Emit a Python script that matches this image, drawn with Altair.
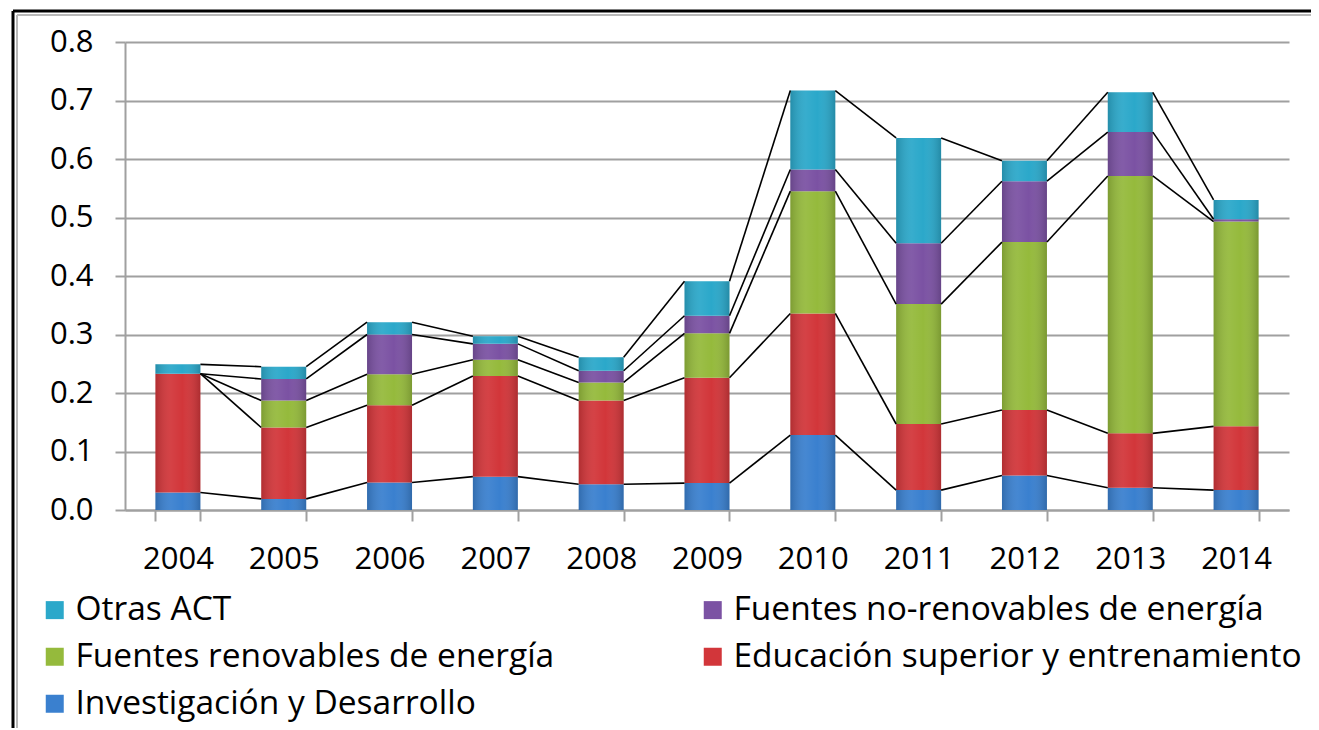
import altair as alt
import pandas as pd

years = ["2004", "2005", "2006", "2007", "2008", "2009", "2010", "2011", "2012", "2013", "2014"]
series_names = [
    "Investigación y Desarrollo",
    "Educación superior y entrenamiento",
    "Fuentes renovables de energía",
    "Fuentes no-renovables de energía",
    "Otras ACT",
]
investigacion = [0.030, 0.019, 0.047, 0.057, 0.044, 0.046, 0.128, 0.034, 0.059, 0.038, 0.034]
educacion = [0.203, 0.122, 0.132, 0.172, 0.143, 0.180, 0.208, 0.113, 0.112, 0.093, 0.109]
renovables = [0.000, 0.046, 0.053, 0.028, 0.031, 0.076, 0.209, 0.205, 0.287, 0.440, 0.350]
no_renovables = [0.000, 0.037, 0.068, 0.027, 0.020, 0.030, 0.037, 0.104, 0.104, 0.075, 0.004]
otras = [0.016, 0.021, 0.021, 0.013, 0.023, 0.059, 0.135, 0.180, 0.035, 0.068, 0.033]
colors = ["#3A80CF", "#D2363A", "#95BA3C", "#7B52A3", "#2BA8CA"]
y_ticks = [0.0, 0.1, 0.2, 0.3, 0.4, 0.5, 0.6, 0.7, 0.8]

values = [investigacion, educacion, renovables, no_renovables, otras]

rows = []
for si, (name, vals) in enumerate(zip(series_names, values)):
    for yi, yr in enumerate(years):
        rows.append({"year": yr, "series": name, "value": vals[yi], "order": si})
df = pd.DataFrame(rows)

# cumulative tops for connector lines
cum = []
for yi in range(len(years)):
    s = 0.0
    c = []
    for vals in values:
        s += vals[yi]
        c.append(s)
    cum.append(c)
line_rows = []
for yi in range(len(years) - 1):
    for si in range(len(series_names)):
        line_rows.append({
            "year": years[yi], "next": years[yi + 1],
            "y1": cum[yi][si], "y2": cum[yi + 1][si],
        })
ldf = pd.DataFrame(line_rows)

legend_order = series_names[::-1]
legend_colors = colors[::-1]

xscale = alt.Scale(domain=years, paddingInner=0.575, paddingOuter=0.2875)
yscale = alt.Scale(domain=[0, 0.8], nice=False)

FONT = "Open Sans"

bars = alt.Chart(df).mark_bar(stroke="transparent").encode(
    x=alt.X("year:O", scale=xscale, title=None,
            axis=alt.Axis(labelAngle=0, tickBand="extent", tickSize=11, labelPadding=23,
                          labelFontSize=31, labelFont=FONT, labelColor="#000000",
                          domainColor="#A0A0A0", domainWidth=2, tickColor="#A0A0A0",
                          tickWidth=2, grid=False)),
    y=alt.Y("value:Q", stack="zero", scale=yscale, title=None,
            axis=alt.Axis(values=y_ticks, format=".1f", tickSize=10, labelPadding=22,
                          labelFontSize=31, labelFont=FONT, labelColor="#000000",
                          domainColor="#A0A0A0", domainWidth=2, tickColor="#A0A0A0",
                          tickWidth=2, gridColor="#A0A0A0", gridWidth=2)),
    color=alt.Color("series:N", scale=alt.Scale(domain=legend_order, range=legend_colors),
                    sort=legend_order,
                    legend=alt.Legend(title=None, orient="none", legendX=-87, legendY=551,
                                      columns=2, direction="horizontal",
                                      symbolType="square", symbolSize=324,
                                      symbolStrokeWidth=0, labelFont=FONT,
                                      labelFontSize=33.5, labelColor="#000000",
                                      labelOffset=4, rowPadding=12, columnPadding=141,
                                      labelLimit=700, padding=0)),
    order=alt.Order("order:Q", sort="ascending"),
)

shade = alt.Chart(df).mark_bar(
    stroke="transparent",
    color=alt.Gradient(
        gradient="linear", x1=0, y1=0, x2=1, y2=0,
        stops=[
            alt.GradientStop(color="rgba(0,0,0,0.16)", offset=0),
            alt.GradientStop(color="rgba(255,255,255,0.06)", offset=0.35),
            alt.GradientStop(color="rgba(255,255,255,0.0)", offset=0.6),
            alt.GradientStop(color="rgba(0,0,0,0.18)", offset=1),
        ],
    ),
).encode(
    x=alt.X("year:O", scale=xscale),
    y=alt.Y("value:Q", stack="zero", scale=yscale),
    detail="series:N",
    order=alt.Order("order:Q", sort="ascending"),
)

lines = alt.Chart(ldf).mark_rule(color="#000000", strokeWidth=1.6, xOffset=22.5, x2Offset=-22.5).encode(
    x=alt.X("year:O", scale=xscale),
    x2="next:O",
    y=alt.Y("y1:Q", scale=yscale),
    y2="y2:Q",
)

frame_top = alt.Chart(pd.DataFrame({"a": [0]})).mark_rule(color="#000000", strokeWidth=3).encode(
    x=alt.value(-112), x2=alt.value(1200), y=alt.value(-31))
frame_left = alt.Chart(pd.DataFrame({"a": [0]})).mark_rule(color="#000000", strokeWidth=3).encode(
    x=alt.value(-112), y=alt.value(-31), y2=alt.value(700))
frame_top2 = alt.Chart(pd.DataFrame({"a": [0]})).mark_rule(color="#B8B8B8", strokeWidth=2).encode(
    x=alt.value(-108), x2=alt.value(1200), y=alt.value(-27))
frame_left2 = alt.Chart(pd.DataFrame({"a": [0]})).mark_rule(color="#B8B8B8", strokeWidth=2).encode(
    x=alt.value(-108), y=alt.value(-27), y2=alt.value(700))

chart = alt.layer(bars, shade, lines, frame_top, frame_left, frame_top2, frame_left2).properties(
    width=1164, height=468,
    padding={"left": 117, "top": 34, "right": 22, "bottom": 218},
    autosize=alt.AutoSizeParams(type="none"),
    background="#FFFFFF",
).configure_view(stroke="transparent")

chart.save("out.html", embed_options={"renderer": "svg", "actions": False})
